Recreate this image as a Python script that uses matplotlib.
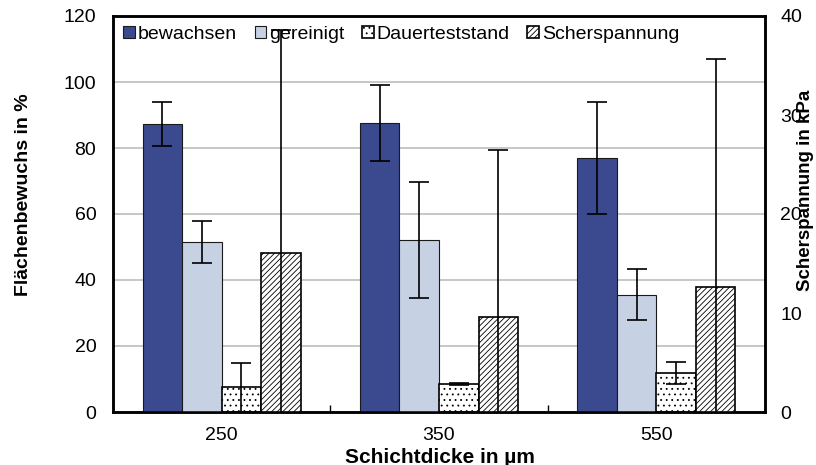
import matplotlib
matplotlib.use("Agg")
import matplotlib.pyplot as plt
import numpy as np

plt.rcParams['font.family'] = ['Liberation Sans', 'DejaVu Sans']
plt.rcParams['hatch.linewidth'] = 0.6

categories = ['250', '350', '550']

bewachsen = [87.2, 87.5, 76.9]
bewachsen_err = [6.6, 11.5, 16.9]
gereinigt = [51.6, 52.1, 35.5]
gereinigt_err = [6.4, 17.6, 7.7]
dauerteststand = [7.5, 8.5, 11.9]
dauerteststand_err = [7.4, 0.3, 3.3]
scherspannung = [16.1, 9.6, 12.6]          # kPa, right axis
scherspannung_err = [22.5, 16.9, 23.1]

fig = plt.figure(figsize=(8.16, 4.65), dpi=100)
ax = fig.add_axes([113/816, 1 - 412/465, (765-113)/816, (412-16)/465])
ax2 = ax.twinx()

x = np.arange(len(categories))
w = 1 / 5.5
offs = np.array([-1.5, -0.5, 0.5, 1.5]) * w

err_kw = dict(ecolor='black', elinewidth=1.2, capsize=7, capthick=1.2)

b1 = ax.bar(x + offs[0], bewachsen, w, yerr=bewachsen_err, color='#3B4A8F',
            edgecolor='#1a1a1a', linewidth=0.8, error_kw=err_kw, label='bewachsen', zorder=3)
b2 = ax.bar(x + offs[1], gereinigt, w, yerr=gereinigt_err, color='#C6D1E4',
            edgecolor='#1a1a1a', linewidth=0.8, error_kw=err_kw, label='gereinigt', zorder=3)
b3 = ax.bar(x + offs[2], dauerteststand, w, yerr=dauerteststand_err, color='white',
            edgecolor='black', hatch='...', linewidth=1.2, error_kw=err_kw,
            label='Dauerteststand', zorder=3)
b4 = ax2.bar(x + offs[3], scherspannung, w, yerr=scherspannung_err, color='white',
             edgecolor='black', hatch='//////', linewidth=1.2, error_kw=err_kw,
             label='Scherspannung', zorder=3)

ax.set_xlim(-0.5, 2.5)
ax.set_ylim(0, 120)
ax2.set_ylim(0, 40)
ax.set_yticks(np.arange(0, 121, 20))
ax2.set_yticks(np.arange(0, 41, 10))

ax.yaxis.grid(True, color='#BDBDBD', linewidth=1.2, zorder=0)
ax.set_axisbelow(True)

ax.set_xticks(x)
ax.set_xticklabels(categories)
ax.set_xticks([0.5, 1.5], minor=True)
ax.tick_params(axis='x', which='major', length=0, labelsize=14, pad=11)
ax.tick_params(axis='x', which='minor', direction='in', length=5, width=1)
ax.tick_params(axis='y', length=0, labelsize=14, pad=12)
ax2.tick_params(axis='y', length=0, labelsize=14, pad=11)

for a in (ax, ax2):
    for s in a.spines.values():
        s.set_linewidth(1.8)
        s.set_color('black')

fig.text(24/816, 1 - 195/465, 'Flächenbewuchs in %', rotation=90, ha='center',
         va='center', fontsize=14, fontweight='bold')
fig.text(806/816, 1 - 190/465, 'Scherspannung in kPa', rotation=90, ha='center',
         va='center', fontsize=13.5, fontweight='bold')
fig.text(440/816, 1 - 457/465, 'Schichtdicke in µm', ha='center',
         va='center', fontsize=15, fontweight='bold')

leg = ax2.legend(handles=[b1, b2, b3, b4], loc='upper left', bbox_to_anchor=(-0.005, 1.01),
                 ncol=4, frameon=False, fontsize=14, handlelength=0.6, handleheight=0.6,
                 handletextpad=0.15, columnspacing=0.9, borderaxespad=0.3)
leg.set_zorder(5)

fig.savefig('out.png', dpi=100)
